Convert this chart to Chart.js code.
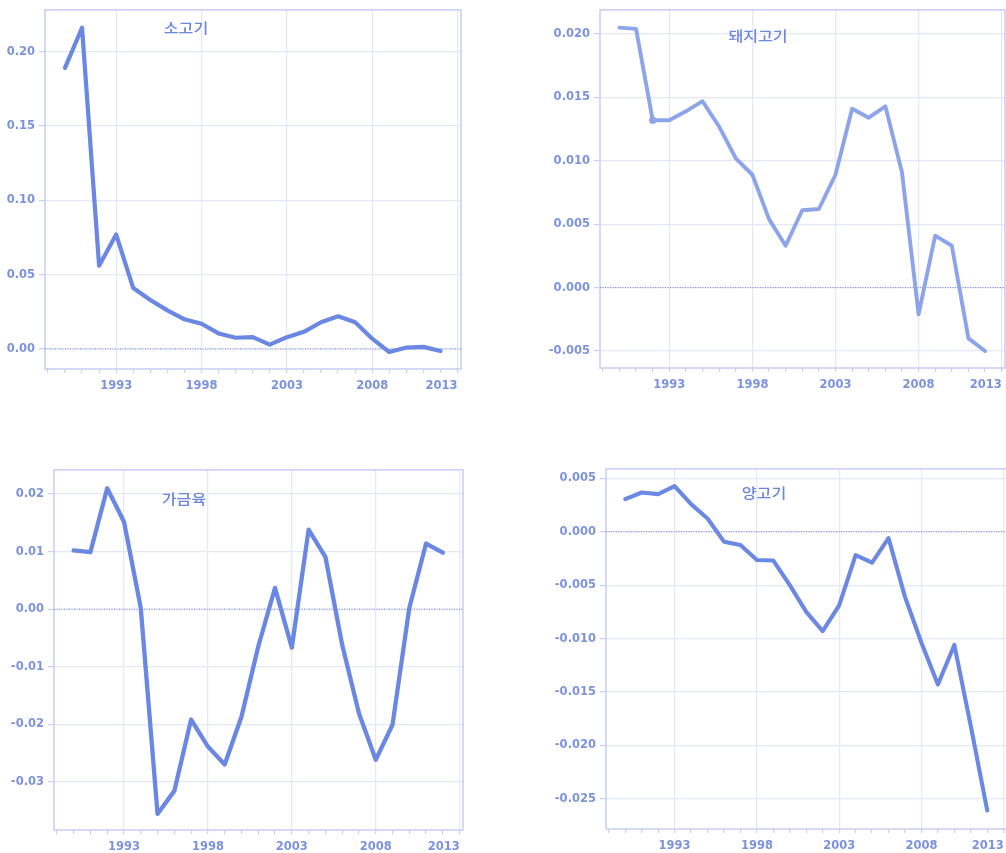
<!DOCTYPE html>
<html>
<head>
<meta charset="utf-8">
<script src="https://cdn.jsdelivr.net/npm/chart.js@4.4.1/dist/chart.umd.min.js"></script>
<style>
  html, body { margin: 0; padding: 0; background: #ffffff; }
  body { width: 1006px; height: 853px; overflow: hidden; position: relative; }
  canvas { position: absolute; }
</style>
</head>
<body>
<canvas id="beefChart"></canvas>
<canvas id="porkChart"></canvas>
<canvas id="poultryChart"></canvas>
<canvas id="lambChart"></canvas>
<script>
// Yearly series, 1990-2012
const years = [1990, 1991, 1992, 1993, 1994, 1995, 1996, 1997, 1998, 1999, 2000, 2001,
               2002, 2003, 2004, 2005, 2006, 2007, 2008, 2009, 2010, 2011, 2012];

const beef = [0.189, 0.216, 0.056, 0.077, 0.041, 0.033, 0.026, 0.020, 0.017, 0.0105, 0.0076, 0.008,
              0.003, 0.008, 0.0116, 0.018, 0.022, 0.018, 0.007, -0.002, 0.001, 0.0015, -0.0013];

const pork = [0.0205, 0.0204, 0.0132, 0.0132, 0.0139, 0.0147, 0.0127, 0.0102, 0.0089, 0.0054, 0.0033, 0.0061,
              0.0062, 0.0089, 0.0141, 0.0134, 0.0143, 0.0091, -0.0021, 0.0041, 0.0033, -0.0040, -0.0050];

const poultry = [0.0102, 0.0099, 0.0210, 0.0152, 0.0002, -0.0356, -0.0316, -0.0192, -0.0239, -0.0270, -0.0187, -0.0065,
                 0.0037, -0.0067, 0.0138, 0.0091, -0.0062, -0.0181, -0.0262, -0.0201, 0.0002, 0.0114, 0.0098];

const lamb = [0.00305, 0.00367, 0.00352, 0.00426, 0.00258, 0.00124, -0.00093, -0.00124, -0.00265, -0.0027, -0.0050, -0.0075,
              -0.0093, -0.0069, -0.0022, -0.0029, -0.0006, -0.0061, -0.0104, -0.0143, -0.0106, -0.0182, -0.0261];

// Axis ticks
const beefTicks = [0, 0.05, 0.10, 0.15, 0.20];
const porkTicks = [-0.005, 0, 0.005, 0.010, 0.015, 0.020];
const poultryTicks = [-0.03, -0.02, -0.01, 0, 0.01, 0.02];
const lambTicks = [-0.025, -0.020, -0.015, -0.010, -0.005, 0, 0.005];
const yearLabels = [1993, 1998, 2003, 2008, 2013];

const titles = ['소고기', '돼지고기', '가금육', '양고기'];

const X_MIN = 1988.83, X_MAX = 2013.2;
const Y_AXIS_W = 60, X_AXIS_H = 30, PAD_TOP = 10, PAD_RIGHT = 20;

const LABEL_COLOR = '#7d92dc';
const GRID_COLOR = '#e4e7f6';
const FRAME_COLOR = '#c6cef2';
const TICK_FONT = { family: '"DejaVu Sans", sans-serif', size: 11.5, weight: 'bold' };

const panels = [
  { id: 'beefChart', area: { l: 45, t: 9, r: 461, b: 369 }, yMin: -0.0134, yMax: 0.228,
    ticks: beefTicks, dec: 2, values: beef, title: titles[0], titleAt: [141, 18],
    color: '#6a87e3', width: 4.2, markIndex: -1 },
  { id: 'porkChart', area: { l: 600, t: 9, r: 1005, b: 368 }, yMin: -0.00634, yMax: 0.0219,
    ticks: porkTicks, dec: 3, values: pork, title: titles[1], titleAt: [158, 26],
    color: '#8ea4ea', width: 3.9, markIndex: 2 },
  { id: 'poultryChart', area: { l: 54, t: 469, r: 463, b: 830 }, yMin: -0.0384, yMax: 0.0242,
    ticks: poultryTicks, dec: 2, values: poultry, title: titles[2], titleAt: [130, 29],
    color: '#6a87e3', width: 4.3, markIndex: -1 },
  { id: 'lambChart', area: { l: 606, t: 468, r: 1007, b: 829 }, yMin: -0.02783, yMax: 0.00588,
    ticks: lambTicks, dec: 3, values: lamb, title: titles[3], titleAt: [158, 24],
    color: '#6b88e3', width: 4.1, markIndex: -1 }
];

// Box around the plotting area plus the in-plot caption
const framePlugin = {
  id: 'frameAndCaption',
  beforeDatasetsDraw(chart, args, opts) {
    const a = chart.chartArea, ctx = chart.ctx;
    ctx.save();
    ctx.strokeStyle = FRAME_COLOR;
    ctx.lineWidth = 1.5;
    ctx.strokeRect(a.left, a.top, a.right - a.left, a.bottom - a.top);
    ctx.restore();
  },
  afterDraw(chart, args, opts) {
    const a = chart.chartArea, ctx = chart.ctx;
    ctx.save();
    ctx.fillStyle = '#6d87dc';
    ctx.font = '500 14px "Noto Sans CJK KR", sans-serif';
    ctx.textAlign = 'center';
    ctx.textBaseline = 'middle';
    ctx.translate(a.left + opts.at[0], a.top + opts.at[1]);
    ctx.scale(1.15, 1);
    ctx.fillText(opts.text, 0, 0);
    ctx.restore();
  }
};

function yearTicks() {
  const t = [];
  for (let y = Math.ceil(X_MIN); y <= Math.floor(X_MAX); y++) t.push({ value: y });
  return t;
}

panels.forEach(p => {
  const cv = document.getElementById(p.id);
  const w = (p.area.r - p.area.l) + Y_AXIS_W + PAD_RIGHT;
  const h = (p.area.b - p.area.t) + PAD_TOP + X_AXIS_H;
  cv.width = w; cv.height = h;
  cv.style.width = w + 'px'; cv.style.height = h + 'px';
  cv.style.left = (p.area.l - Y_AXIS_W) + 'px';
  cv.style.top = (p.area.t - PAD_TOP) + 'px';

  const series = years.map((yr, i) => ({ x: yr, y: p.values[i] }));
  const zero = [{ x: X_MIN, y: 0 }, { x: X_MAX, y: 0 }];

  new Chart(cv, {
    type: 'line',
    data: {
      datasets: [
        {
          data: series,
          borderColor: p.color,
          backgroundColor: p.color,
          borderWidth: p.width,
          borderCapStyle: 'round',
          borderJoinStyle: 'round',
          tension: 0,
          pointRadius: ctx => (ctx.dataIndex === p.markIndex ? 3.6 : 0),
          pointBorderWidth: 0,
          fill: false
        },
        {
          data: zero,
          borderColor: '#6f84d8',
          borderWidth: 1,
          borderDash: [1, 1.5],
          pointRadius: 0,
          fill: false
        }
      ]
    },
    options: {
      responsive: false,
      animation: false,
      events: [],
      devicePixelRatio: 1,
      layout: { padding: { left: 0, top: PAD_TOP, right: PAD_RIGHT, bottom: 0 } },
      plugins: {
        legend: { display: false },
        tooltip: { enabled: false },
        frameAndCaption: { text: p.title, at: p.titleAt }
      },
      scales: {
        x: {
          type: 'linear',
          min: X_MIN,
          max: X_MAX,
          afterBuildTicks: s => { s.ticks = yearTicks(); },
          afterFit: s => { s.height = X_AXIS_H; },
          border: { display: false },
          grid: {
            color: c => (c.tick && yearLabels.includes(c.tick.value) ? GRID_COLOR : 'rgba(0,0,0,0)'),
            tickColor: FRAME_COLOR,
            tickLength: 4,
            lineWidth: 1.2
          },
          ticks: {
            autoSkip: false,
            maxRotation: 0,
            minRotation: 0,
            align: 'inner',
            padding: 6,
            color: LABEL_COLOR,
            font: TICK_FONT,
            callback: v => (yearLabels.includes(v) ? String(v) : '')
          }
        },
        y: {
          type: 'linear',
          min: p.yMin,
          max: p.yMax,
          afterBuildTicks: s => { s.ticks = p.ticks.map(v => ({ value: v })); },
          afterFit: s => { s.width = Y_AXIS_W; },
          border: { display: false },
          grid: {
            color: GRID_COLOR,
            tickColor: FRAME_COLOR,
            tickLength: 6,
            lineWidth: 1.2
          },
          ticks: {
            padding: 4,
            color: LABEL_COLOR,
            font: TICK_FONT,
            callback: v => Number(v).toFixed(p.dec)
          }
        }
      }
    },
    plugins: [framePlugin]
  });
});
</script>
</body>
</html>
